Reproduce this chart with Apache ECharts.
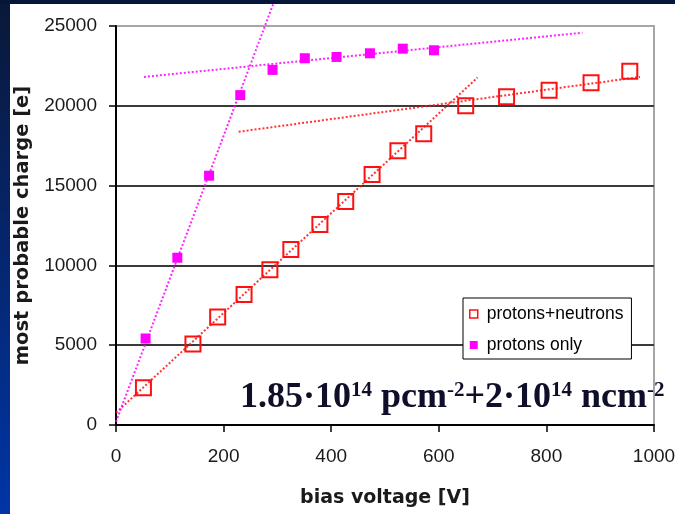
<!DOCTYPE html>
<html>
<head>
<meta charset="utf-8">
<script src="https://cdn.jsdelivr.net/npm/echarts@6/dist/echarts.min.js"></script>
<style>
  html, body { margin: 0; padding: 0; background: #ffffff; }
  #chart { width: 675px; height: 514px; }
</style>
</head>
<body>
<div id="chart"></div>
<script>
// ---- data ----
const xTicks = [0, 200, 400, 600, 800, 1000];
const yTicks = [0, 5000, 10000, 15000, 20000, 25000];

// protons + neutrons (open red squares)
const pnVoltage = [51, 143, 189, 238, 286, 325, 379, 427, 476, 524, 572, 650, 726, 805, 883, 955];
const pnCharge  = [2330, 5080, 6770, 8170, 9730, 11000, 12560, 14000, 15690, 17190, 18250, 20000, 20560, 20980, 21440, 22170];

// protons only (filled magenta squares)
const pVoltage = [55, 114, 173, 231, 291, 351, 410, 472, 533, 591];
const pCharge  = [5420, 10480, 15620, 20670, 22250, 22980, 23060, 23290, 23580, 23480];

// dotted linear fits (end points)
const pnFitLowV  = [0, 672];
const pnFitLowQ  = [770, 21770];
const pnFitHighV = [228, 974];
const pnFitHighQ = [18375, 21810];
const pFitLowV   = [0, 292];
const pFitLowQ   = [200, 26360];
const pFitHighV  = [52, 867];
const pFitHighQ  = [21810, 24580];

const seriesNames = ['protons+neutrons', 'protons only'];
const xTitle = 'bias voltage [V]';
const yTitle = 'most probable charge [e]';

// ---- build ----
const zip = (a, b) => a.map((v, i) => [v, b[i]]);
const RED = '#ff1010';
const MAG = '#ff00ff';

const chart = echarts.init(document.getElementById('chart'), null, { renderer: 'canvas' });

const fitLine = (name, xs, ys, color) => ({
  type: 'line', name: name, data: zip(xs, ys), showSymbol: false, symbol: 'none',
  clip: false, silent: true, z: 2,
  lineStyle: { color: color, width: 2, type: [2, 2], opacity: 0.85 }
});

chart.setOption({
  animation: false,
  backgroundColor: '#ffffff',
  textStyle: { fontFamily: 'Liberation Sans' },
  title: {
    left: 240, top: 380, padding: 0,
    text: '{a|1.85·10}{s|14}{a| pcm}{s|-2}{a|+2·10}{s|14}{a| ncm}{s|-2}',
    textStyle: {
      rich: {
        a: { fontFamily: 'Liberation Serif', fontWeight: 'bold', fontSize: 36, lineHeight: 36, color: '#0f0f2a' },
        s: { fontFamily: 'Liberation Serif', fontWeight: 'bold', fontSize: 21, lineHeight: 21, color: '#0f0f2a', verticalAlign: 'top' }
      }
    }
  },
  grid: {
    left: 116, top: 26, width: 538, height: 399,
    containLabel: false, outerBoundsMode: 'none',
    show: true, backgroundColor: 'transparent', borderColor: '#a6a6a6', borderWidth: 2
  },
  legend: {
    orient: 'vertical', left: 463, top: 298,
    backgroundColor: '#ffffff', borderColor: '#000000', borderWidth: 1,
    padding: [7, 8, 5, 6], itemGap: 13, itemWidth: 8, itemHeight: 8,
    textStyle: { fontFamily: 'Liberation Sans', fontSize: 17.5, lineHeight: 18, color: '#000000', padding: [0, 0, 0, 4] },
    data: [
      { name: seriesNames[0], icon: 'rect', itemStyle: { color: '#ffffff', borderColor: RED, borderWidth: 1.5 } },
      { name: seriesNames[1], icon: 'rect', itemStyle: { color: MAG, borderWidth: 0 } }
    ]
  },
  xAxis: {
    type: 'value', min: xTicks[0], max: xTicks[xTicks.length - 1], interval: 200,
    name: xTitle, nameLocation: 'middle', nameGap: 64,
    nameTextStyle: { fontFamily: 'DejaVu Sans', fontWeight: 'bold', fontSize: 19, color: '#1a1a1a' },
    axisLine: { onZero: false, lineStyle: { color: '#000000', width: 2 } },
    axisTick: { show: true, inside: false, length: 7, lineStyle: { color: '#000000', width: 1.5 } },
    axisLabel: { margin: 22, fontSize: 19, color: '#1a1a1a', fontFamily: 'Liberation Sans', formatter: v => String(v) },
    splitLine: { show: false }
  },
  yAxis: {
    type: 'value', min: yTicks[0], max: yTicks[yTicks.length - 1], interval: 5000,
    name: yTitle, nameLocation: 'middle', nameGap: 72, nameRotate: 90,
    nameTextStyle: { fontFamily: 'DejaVu Sans', fontWeight: 'bold', fontSize: 19.5, color: '#1a1a1a' },
    axisLine: { show: true, onZero: false, lineStyle: { color: '#000000', width: 2 } },
    axisTick: { show: true, inside: false, length: 7, lineStyle: { color: '#000000', width: 1.5 } },
    axisLabel: { margin: 19, fontSize: 19, color: '#1a1a1a', fontFamily: 'Liberation Sans', formatter: v => String(v) },
    splitLine: { show: true, showMinLine: false, showMaxLine: false, lineStyle: { color: '#3a3a3a', width: 2 } }
  },
  graphic: [
    {
      type: 'rect', left: 0, top: 0, z: 100, silent: true,
      shape: { width: 10, height: 514 },
      style: {
        fill: new echarts.graphic.LinearGradient(0, 0, 0, 1, [
          { offset: 0, color: '#0a1838' }, { offset: 1, color: '#0035a6' }
        ])
      }
    },
    {
      type: 'rect', left: 0, top: 0, z: 100, silent: true,
      shape: { width: 675, height: 4 },
      style: { fill: '#06153a' }
    }
  ],
  series: [
    fitLine('fit1', pnFitLowV, pnFitLowQ, RED),
    fitLine('fit2', pnFitHighV, pnFitHighQ, RED),
    fitLine('fit3', pFitLowV, pFitLowQ, MAG),
    fitLine('fit4', pFitHighV, pFitHighQ, MAG),
    {
      type: 'scatter', name: seriesNames[0], data: zip(pnVoltage, pnCharge),
      symbol: 'rect', symbolSize: 15, z: 5,
      itemStyle: { color: 'rgba(0,0,0,0)', borderColor: RED, borderWidth: 2, opacity: 1 }
    },
    {
      type: 'scatter', name: seriesNames[1], data: zip(pVoltage, pCharge),
      symbol: 'rect', symbolSize: 10, z: 5,
      itemStyle: { color: MAG, opacity: 1 }
    }
  ]
});
</script>
</body>
</html>
